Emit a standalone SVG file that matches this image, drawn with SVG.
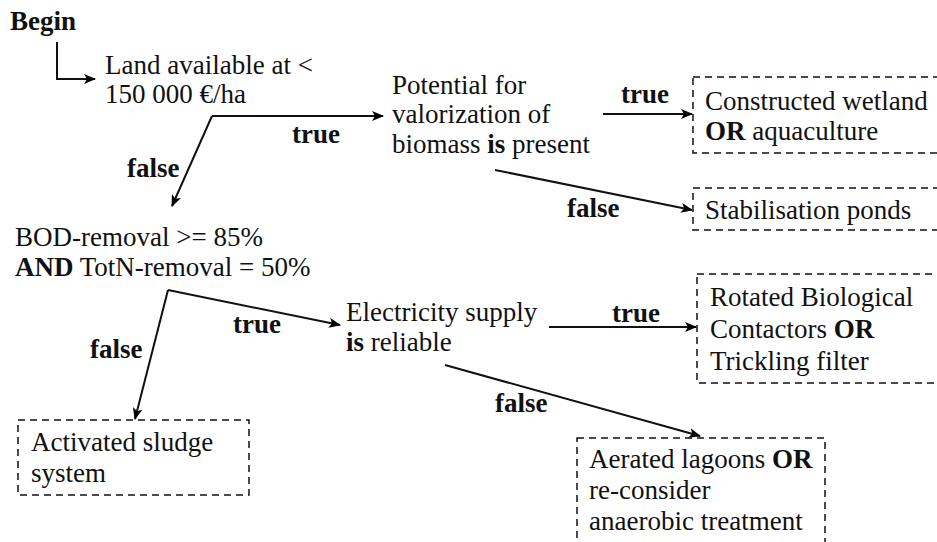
<svg xmlns="http://www.w3.org/2000/svg" width="937" height="542" viewBox="0 0 937 542">
<defs>
<marker id="ah" viewBox="0 0 12 10" refX="11" refY="5" markerWidth="12" markerHeight="10" markerUnits="userSpaceOnUse" orient="auto">
<path d="M0,0 L12,5 L0,10 L3,5 Z" fill="#000"/>
</marker>
<style>
.b{font-weight:bold}
.box{fill:none;stroke:#111;stroke-width:1.5;stroke-dasharray:7,5}
.c{fill:none;stroke:#111;stroke-width:2;marker-end:url(#ah)}
</style>
</defs>
<rect width="937" height="542" fill="#fff"/>
<g font-family="'Liberation Serif', serif" font-size="27" fill="#111">
<g id="begin"><text x="10" y="30" class="b">Begin</text></g>
<g id="land"><text x="105" y="74">Land available at &lt;</text><text x="105" y="103">150 000 €/ha</text></g>
<g id="potential"><text x="392" y="94">Potential for</text><text x="392" y="123">valorization of</text><text x="392" y="153">biomass <tspan class="b">is</tspan> present</text></g>
<g id="wetland"><rect class="box" x="693" y="77" width="252" height="76"/><text x="705" y="110">Constructed wetland</text><text x="705" y="140"><tspan class="b">OR</tspan> aquaculture</text></g>
<g id="ponds"><rect class="box" x="693" y="188" width="252" height="42"/><text x="705" y="219">Stabilisation ponds</text></g>
<g id="bod"><text x="15" y="246">BOD-removal &gt;= 85%</text><text x="15" y="276"><tspan class="b">AND</tspan> TotN-removal = 50%</text></g>
<g id="electricity"><text x="346" y="321">Electricity supply</text><text x="346" y="351"><tspan class="b">is</tspan> reliable</text></g>
<g id="rbc"><rect class="box" x="697" y="274" width="250" height="109"/><text x="710" y="306">Rotated Biological</text><text x="710" y="338">Contactors <tspan class="b">OR</tspan></text><text x="710" y="370">Trickling filter</text></g>
<g id="sludge"><rect class="box" x="18" y="420" width="231" height="75"/><text x="31" y="451">Activated sludge</text><text x="31" y="482">system</text></g>
<g id="lagoons"><rect class="box" x="577" y="438" width="248" height="120"/><text x="589" y="468">Aerated lagoons <tspan class="b">OR</tspan></text><text x="589" y="499">re-consider</text><text x="589" y="530">anaerobic treatment</text></g>
<g id="connectors">
<path class="c" d="M57,42 V79 H95"/>
<path class="c" d="M212,116 H383"/>
<path class="c" d="M212,116 L172,206"/>
<path class="c" d="M603,114 H692"/>
<path class="c" d="M495,170 L692,210"/>
<path class="c" d="M168,290 L340,325"/>
<path class="c" d="M168,290 L135,419"/>
<path class="c" d="M549,327 H696"/>
<path class="c" d="M445,365 L700,436"/>
<text x="292" y="143" class="b">true</text>
<text x="127" y="177" class="b">false</text>
<text x="621" y="103" class="b">true</text>
<text x="567" y="217" class="b">false</text>
<text x="233" y="333" class="b">true</text>
<text x="90" y="358" class="b">false</text>
<text x="612" y="322" class="b">true</text>
<text x="495" y="412" class="b">false</text>
</g>
</g>
</svg>
